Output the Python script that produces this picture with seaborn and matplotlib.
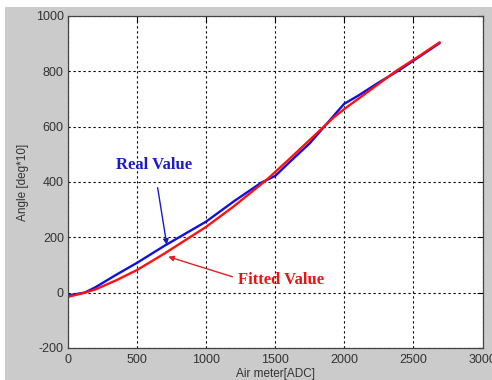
import matplotlib
matplotlib.use("Agg")
import matplotlib.pyplot as plt
import seaborn as sns
import pandas as pd
from matplotlib.patches import Rectangle


# values
real_x = [0, 120, 200, 350, 500, 700, 1000, 1200, 1400, 1500, 1600, 1750, 1860, 1950, 2000, 2100, 2250, 2400, 2550, 2690]
real_y = [-10, 0, 20, 65, 108, 170, 257, 330, 398, 422, 470, 540, 603, 655, 683, 712, 760, 805, 855, 902]

fit_x = [0, 100, 200, 350, 500, 700, 850, 1000, 1200, 1440, 1600, 1730, 1920, 2000, 2165, 2380, 2550, 2690]
fit_y = [-15, -3, 12, 45, 82, 142, 190, 238, 312, 409, 482, 543, 632, 664, 724, 803, 858, 905]

x_ticks = [0, 500, 1000, 1500, 2000, 2500, 3000]
y_ticks = [-200, 0, 200, 400, 600, 800, 1000]

real_df = pd.DataFrame({"adc": real_x, "angle": real_y})
fit_df = pd.DataFrame({"adc": fit_x, "angle": fit_y})

sns.set_style("white")
plt.rcParams["font.family"] = ["Liberation Sans", "DejaVu Sans"]
plt.rcParams["axes.unicode_minus"] = False

fig = plt.figure(figsize=(4.92, 3.8), dpi=100, facecolor="white")
# grey matlab-like window background
bg = Rectangle((5 / 492, 0), 1, 1 - 7 / 380, transform=fig.transFigure,
               facecolor="#cbcbcb", edgecolor="none", zorder=-10)
fig.add_artist(bg)
ax = fig.add_axes([68 / 492, 1 - 348 / 380, (482.5 - 68) / 492, (348 - 16) / 380])
ax.set_facecolor("white")

sns.lineplot(data=real_df, x="adc", y="angle", color="#1010e0", linewidth=1.7, ax=ax)
sns.lineplot(data=fit_df, x="adc", y="angle", color="#ff1010", linewidth=1.7, ax=ax)

ax.set_xlim(0, 3000)
ax.set_ylim(-200, 1000)
ax.set_xticks(x_ticks)
ax.set_yticks(y_ticks)
ax.tick_params(direction="in", length=4, width=0.8, labelsize=9, colors="black",
               top=True, right=True, labelcolor="#333333")
ax.tick_params(axis="x", pad=4)
ax.tick_params(axis="y", pad=3)
ax.grid(True, color="black", linestyle=(0, (2, 2.5)), linewidth=0.8)
for s in ax.spines.values():
    s.set_color("#444444")
    s.set_linewidth(0.9)

ax.set_xlabel("Air meter[ADC]", fontsize=8.5, color="#333333", labelpad=2)
ax.set_ylabel("Angle [deg*10]", fontsize=8.5, color="#333333", labelpad=5)

ax.annotate("Real Value", xy=(715, 173), xytext=(623, 460),
            color="#1a1acc", fontsize=12, fontweight="bold", family="Liberation Serif",
            ha="center", va="center",
            arrowprops=dict(arrowstyle="-|>", color="#1a1acc", lw=1.0,
                            mutation_scale=8, shrinkA=8, shrinkB=0))
ax.annotate("Fitted Value", xy=(725, 130), xytext=(1545, 45),
            color="#ee1111", fontsize=12, fontweight="bold", family="Liberation Serif",
            ha="center", va="center",
            arrowprops=dict(arrowstyle="-|>", color="#dd2222", lw=1.0,
                            mutation_scale=8, shrinkA=2, shrinkB=0,
                            relpos=(0, 0.6)))

fig.savefig("out.png", dpi=100, facecolor=fig.get_facecolor())
